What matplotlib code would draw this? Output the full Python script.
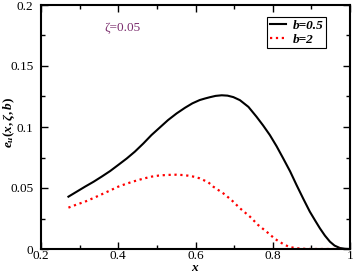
import matplotlib
matplotlib.use("Agg")
import matplotlib.pyplot as plt
from matplotlib.ticker import MultipleLocator

plt.rcParams['font.family'] = ['Liberation Serif', 'DejaVu Serif']
plt.rcParams['mathtext.fontset'] = 'custom'
plt.rcParams['mathtext.rm'] = 'Liberation Serif:bold'
plt.rcParams['mathtext.it'] = 'Liberation Serif:bold:italic'
plt.rcParams['mathtext.bf'] = 'Liberation Serif:bold'

# b = 0.5 (solid black)
x_b05 = [0.271, 0.292, 0.314, 0.336, 0.357, 0.379, 0.400, 0.422, 0.443, 0.465,
         0.486, 0.508, 0.529, 0.551, 0.573, 0.592, 0.611, 0.625, 0.637, 0.652,
         0.668, 0.683, 0.698, 0.715, 0.737, 0.758, 0.775, 0.7925, 0.810, 0.827,
         0.845, 0.8615, 0.879, 0.896, 0.910, 0.922, 0.935, 0.948, 0.960, 0.974,
         0.987, 1.000]
y_b05 = [0.0429, 0.0469, 0.0511, 0.0551, 0.0593, 0.0639, 0.0689, 0.0742, 0.0798, 0.0865,
         0.0934, 0.0997, 0.1057, 0.1111, 0.1158, 0.1194, 0.1221, 0.1234, 0.1244, 0.1255,
         0.1260, 0.1257, 0.1245, 0.1220, 0.1165, 0.1084, 0.1013, 0.0934, 0.0842, 0.0743,
         0.0636, 0.0525, 0.0412, 0.0306, 0.0232, 0.0170, 0.0110, 0.0060, 0.0028, 0.0008,
         0.0002, 0.0000]

# b = 2 (dotted red)
x_b2 = [0.271, 0.292, 0.314, 0.336, 0.357, 0.379, 0.400, 0.422, 0.443, 0.465,
        0.486, 0.505, 0.525, 0.551, 0.568, 0.581, 0.597, 0.611, 0.620, 0.633,
        0.646, 0.672, 0.693, 0.715, 0.741, 0.762, 0.784, 0.806, 0.831, 0.846,
        0.8615, 0.880, 0.896, 0.930, 0.960, 0.985]
y_b2 = [0.0339, 0.0364, 0.0388, 0.0418, 0.0448, 0.0480, 0.0511, 0.0536, 0.0557, 0.0577,
        0.0593, 0.0602, 0.0607, 0.0609, 0.0606, 0.0601, 0.0592, 0.0579, 0.0566, 0.0547,
        0.0511, 0.0456, 0.0402, 0.0334, 0.0265, 0.0197, 0.0142, 0.0082, 0.0033, 0.0015,
        0.0006, 0.0002, 0.0000, 0.0000, 0.0000, 0.0000]

xticks = [0.2, 0.4, 0.6, 0.8, 1.0]
xtick_labels = ['0.2', '0.4', '0.6', '0.8', '1']
yticks = [0, 0.05, 0.1, 0.15, 0.2]
ytick_labels = ['0', '0.05', '0.1', '0.15', '0.2']

fig = plt.figure(figsize=(3.54, 2.73), dpi=100)
ax = fig.add_axes([41/354, 24/273, 309/354, 244/273])

ax.plot(x_b05, y_b05, color='black', lw=1.5, label='b=0.5')
ax.plot(x_b2, y_b2, color='red', lw=1.6, linestyle=':', label='b=2')

ax.set_xlim(0.2, 1.0)
ax.set_ylim(0, 0.2)
ax.set_xticks(xticks)
ax.set_xticklabels(xtick_labels)
ax.set_yticks(yticks)
ax.set_yticklabels(ytick_labels)
ax.xaxis.set_minor_locator(MultipleLocator(0.1))
ax.yaxis.set_minor_locator(MultipleLocator(0.025))
ax.tick_params(which='both', direction='in', top=True, right=True, width=1.0,
               labelsize=9.5)
ax.tick_params(which='major', length=5)
ax.tick_params(which='minor', length=3)
ax.tick_params(axis='x', pad=1.0)
ax.tick_params(axis='y', pad=5.5)
for s in ax.spines.values():
    s.set_linewidth(1.5)

ax.set_xlabel(r'$x$', fontsize=9.5)
ax.xaxis.set_label_coords(0.5, -0.0525)
ax.xaxis.label.set_va('top')
ax.set_ylabel(r'$e_u(x,\zeta,b)$', fontsize=9.5)
ax.yaxis.set_label_coords(-0.077, 0.52)

ax.text(0.41, 0.181, 'ζ=0.05', color='#7b2d6d', fontsize=9.5,
        ha='center', va='center')

leg = ax.legend(loc='upper right', bbox_to_anchor=(0.922, 0.95),
                prop={'family': 'Liberation Serif', 'weight': 'bold',
                      'style': 'italic', 'size': 9.5},
                handlelength=1.2, handletextpad=0.5, borderpad=0.2,
                labelspacing=0.1, fancybox=False, framealpha=1,
                edgecolor='black', borderaxespad=0)
leg.get_frame().set_linewidth(0.8)

fig.savefig('out.png', dpi=100)
